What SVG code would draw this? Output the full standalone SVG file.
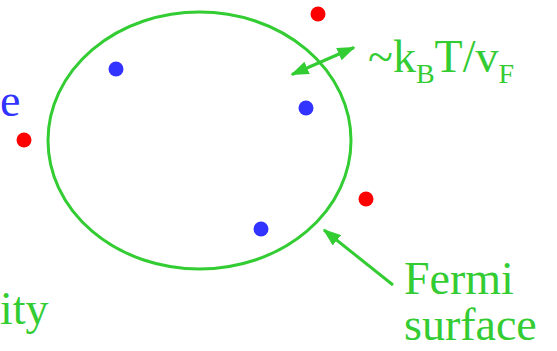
<svg xmlns="http://www.w3.org/2000/svg" width="557" height="351" viewBox="0 0 557 351">
<style>
text{font-family:'Liberation Serif','Times New Roman',serif;font-size:46px}
.g{fill:#33cc33}
.b{fill:#3333ff}
.blue{fill:#3333ff}
.red{fill:#ff0000}
.ln{stroke:#33cc33;stroke-width:3;fill:none}
</style>
<defs>
<marker id="ah" viewBox="0 0 12 9" refX="11" refY="4.5" markerWidth="6" markerHeight="4.5" markerUnits="strokeWidth" orient="auto-start-reverse">
<path d="M0,0 L12,4.5 L0,9 z" fill="#33cc33"/>
</marker>
</defs>
<rect width="557" height="351" fill="#fff"/>
<g id="fermi-surface"><ellipse class="ln" cx="199.5" cy="140.5" rx="151.5" ry="128.5"/></g>
<g id="particles">
<circle class="blue" cx="116" cy="69" r="7.5"/>
<circle class="blue" cx="306" cy="108" r="7.5"/>
<circle class="blue" cx="261" cy="229" r="7.5"/>
<circle class="red" cx="318" cy="14" r="7.5"/>
<circle class="red" cx="366" cy="199" r="7.5"/>
<circle class="red" cx="24" cy="140" r="7.5"/>
</g>
<g id="connectors">
<line class="ln" x1="292" y1="74.5" x2="354" y2="47.5" marker-start="url(#ah)" marker-end="url(#ah)"/>
<line class="ln" x1="393" y1="285" x2="324" y2="230" marker-end="url(#ah)"/>
</g>
<g id="labels">
<text class="b" x="0" y="116">e</text>
<text class="g" x="0" y="324">ity</text>
<text class="g" x="368" y="72" font-size="48">~k<tspan font-size="28" dy="11">B</tspan><tspan dy="-11">T/v</tspan><tspan font-size="28" dy="11">F</tspan></text>
<text class="g" x="404" y="294">Fermi</text>
<text class="g" x="404" y="340">surface</text>
</g>
</svg>
